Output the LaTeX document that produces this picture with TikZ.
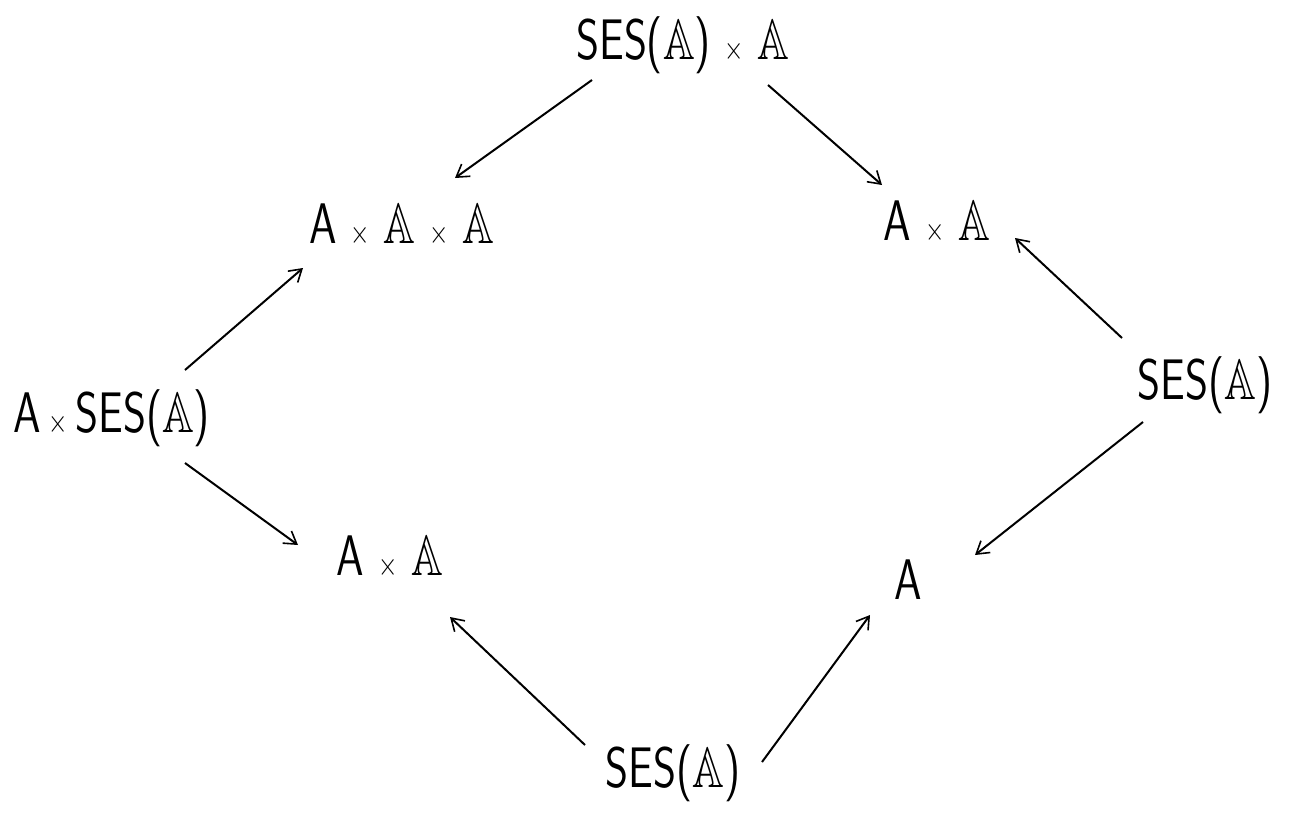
\documentclass[tikz,border=0pt]{standalone}
\usepackage{amssymb}
\usepackage{graphicx}
\usetikzlibrary{arrows.meta}
\newcommand{\bbA}{\ensuremath{\mathbb{A}}}
\newcommand{\tms}{\ensuremath{\times}}
\newcommand{\tall}[1]{\scalebox{1}[1.3]{#1}}
\begin{document}
\begin{tikzpicture}[x=1pt,y=-1pt,
  lbl/.style={inner sep=0pt,font=\fontsize{44}{48}\selectfont\sffamily},
  arr/.style={line width=2pt,-{Straight Barb[length=12pt,width=15pt,line width=1.6pt]}}]
\useasboundingbox (0,0) rectangle (1303,814);
% objects of the diagram
\node[lbl] (top) at (683,45) {\tall{SES(\bbA) \tms{} \bbA}};
\node[lbl] (aaa) at (402,225) {\tall{A \tms{} \bbA{} \tms{} \bbA}};
\node[lbl] (aar) at (937,222) {\tall{A \tms{} \bbA}};
\node[lbl] (axs) at (112,418) {\tall{A\,\tms\,SES(\bbA)}};
\node[lbl] (sesr) at (1205,385) {\tall{SES(\bbA)}};
\node[lbl] (aal) at (390,557) {\tall{A \tms{} \bbA}};
\node[lbl] (a) at (908,580) {\tall{A}};
\node[lbl] (sesb) at (673,773) {\tall{SES(\bbA)}};
% morphisms
\draw[arr] ([shift={(-91,35)}]top.center) -- ([shift={(53,-47)}]aaa.center);
\draw[arr] ([shift={(85,40)}]top.center) -- ([shift={(-55,-37)}]aar.center);
\draw[arr] ([shift={(73,-48)}]axs.center) -- ([shift={(-99,43)}]aaa.center);
\draw[arr] ([shift={(73,45)}]axs.center) -- ([shift={(-92,-12)}]aal.center);
\draw[arr] ([shift={(-83,-47)}]sesr.center) -- ([shift={(78,16)}]aar.center);
\draw[arr] ([shift={(-62,37)}]sesr.center) -- ([shift={(67,-25)}]a.center);
\draw[arr] ([shift={(-88,-28)}]sesb.center) -- ([shift={(60,60)}]aal.center);
\draw[arr] ([shift={(89,-11)}]sesb.center) -- ([shift={(-38,35)}]a.center);
\end{tikzpicture}
\end{document}
